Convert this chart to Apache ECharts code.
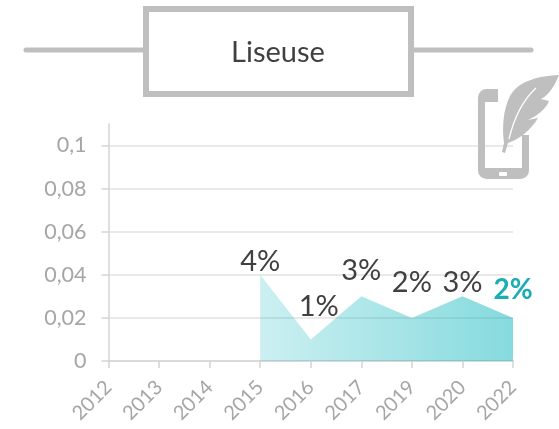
<!DOCTYPE html>
<html><head><meta charset="utf-8">
<style>html,body{margin:0;padding:0;background:#fff}#c{width:559px;height:429px}</style>
<script src="https://cdn.jsdelivr.net/npm/echarts@6/dist/echarts.min.js"></script>
</head><body><div id="c"></div>
<script>
const title = 'Liseuse';
const years = ['2012','2013','2014','2015','2016','2017','2019','2020','2022'];
const values = [null,null,null,0.04,0.01,0.03,0.02,0.03,0.02];
const valueLabels = ['','','','4%','1%','3%','2%','3%','2%'];
const labelShiftPad = [0,0,0,0,16,0,0,0,0];
const labelGaps = [0,0,0,-2,18,11,20,-1,13];

const GRAY='#bfbfbf', F='Lato, "Open Sans", sans-serif';
echarts.graphic.registerShape('feather', echarts.graphic.extendPath('M559 75 C540 76 519 80 510 96 C503 110 502 128 504 143 L502 152 L505 153 L508 143 C518 140 531 130 538 118 L528 120 C537 116 546 109 549 101 L541 99 C549 95 555 85 559 75 Z'));
echarts.graphic.registerShape('vein', echarts.graphic.extendPath('M509 139 C514 118 523 100 536 88'));
const chart = echarts.init(document.getElementById('c'), null, {renderer:'canvas'});
chart.setOption({
  animation:false,
  backgroundColor:'#fff',
  grid:{left:108.5,right:46,top:124,bottom:68},
  xAxis:{type:'category',data:years,boundaryGap:false,
    axisLine:{lineStyle:{color:'#d4d4d4',width:1.5}},
    axisTick:{show:true,inside:false,alignWithLabel:true,length:7,lineStyle:{color:'#d4d4d4',width:1.5}},
    axisLabel:{rotate:45,interval:0,color:'#a6a6a6',fontSize:20,fontFamily:F,margin:23},
    splitLine:{show:false}},
  yAxis:{type:'value',min:0,max:0.11,interval:0.02,
    axisLine:{show:true,lineStyle:{color:'#d4d4d4',width:1.5}},
    axisTick:{show:true,inside:false,length:7,lineStyle:{color:'#d4d4d4',width:1.5}},
    axisLabel:{color:'#a6a6a6',fontSize:21.5,fontFamily:F,margin:22,showMaxLabel:false,
      formatter:v=>String(v).replace('.',',')},
    splitLine:{show:true,showMaxLine:false,lineStyle:{color:'#e2e2e2',width:1.5}}},
  series:[{type:'line',data:values.map((v,i)=>({value:v,
      label:{show:v!==null,position:'top',distance:labelGaps[i],padding:[0,0,0,labelShiftPad[i]],
        formatter:valueLabels[i],
        color:i===values.length-1?'#1aadb5':'#404040',
        fontWeight:i===values.length-1?'bold':'normal',
        fontSize:i===values.length-1?28:29,fontFamily:F}})),
    showSymbol:true,symbol:'circle',symbolSize:1,itemStyle:{color:'rgba(0,0,0,0)'},connectNulls:false,
    lineStyle:{width:0},
    areaStyle:{opacity:1,color:{type:'linear',x:0,y:0,x2:1,y2:0,colorStops:[
      {offset:0,color:'rgba(0,178,186,0.2)'},{offset:1,color:'rgba(0,178,186,0.48)'}]}},
    labelLayout:{hideOverlap:false},
    z:3}],
  graphic:[
    {type:'line',shape:{x1:26,y1:50,x2:145,y2:50},style:{stroke:GRAY,lineWidth:5,lineCap:'round'},z:10},
    {type:'line',shape:{x1:411,y1:50,x2:531,y2:50},style:{stroke:GRAY,lineWidth:5,lineCap:'round'},z:10},
    {type:'rect',shape:{x:146,y:9,width:265,height:85},style:{fill:'#fff',stroke:GRAY,lineWidth:6},z:11},
    {type:'text',x:278,y:53,style:{text:title,fill:'#404040',font:'29px '+F,textAlign:'center',textVerticalAlign:'middle'},z:12},
    {type:'rect',shape:{x:481.5,y:92.5,width:44,height:83,r:5},style:{fill:'none',stroke:GRAY,lineWidth:7},z:13},
    {type:'rect',shape:{x:481,y:92,width:45,height:10},style:{fill:GRAY},z:13},
    {type:'rect',shape:{x:481,y:168,width:45,height:8},style:{fill:GRAY},z:13},
    {type:'rect',shape:{x:498,y:84,width:36,height:51},style:{fill:'#fff'},z:14},
    {type:'rect',shape:{x:499,y:172,width:8,height:4,r:1},style:{fill:'#fff'},z:15},
    {type:'feather',style:{fill:GRAY},z:16},
    {type:'vein',style:{fill:'none',stroke:'#fff',lineWidth:1.3},z:17}
  ]
});
</script></body></html>
